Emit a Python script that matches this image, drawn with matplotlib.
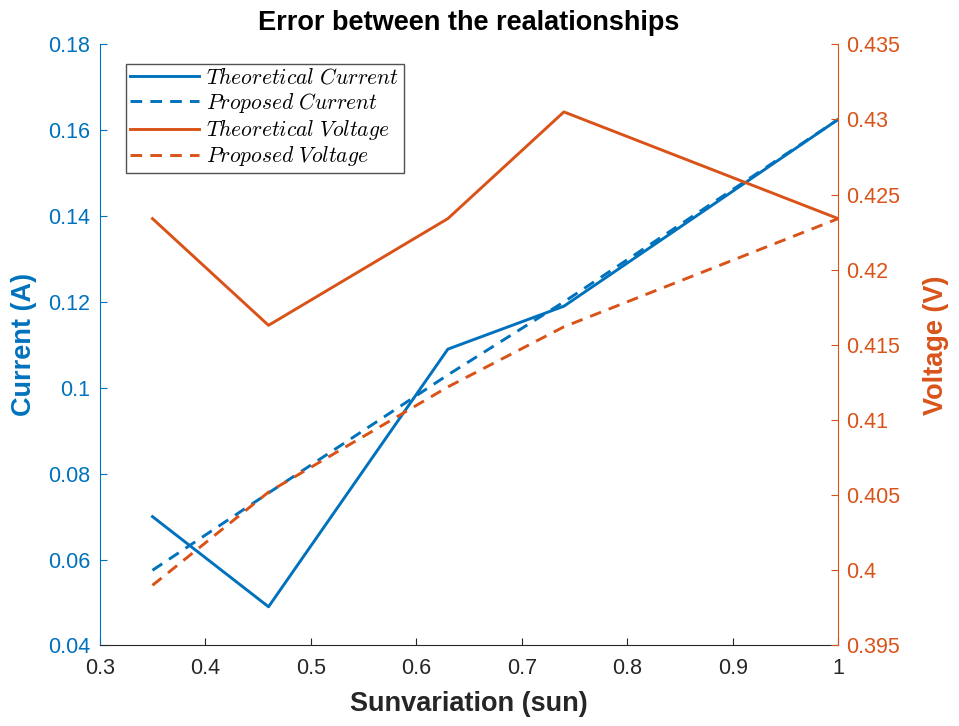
import matplotlib
matplotlib.use("Agg")
import matplotlib.pyplot as plt

# Sun variation levels and measured/fitted values
sun = [0.35, 0.46, 0.63, 0.74, 1.0]
currentTheo = [0.070, 0.049, 0.109, 0.119, 0.1625]
currentProp = [0.0575, 0.0755, 0.1030, 0.1200, 0.1625]
voltageTheo = [0.4234, 0.4163, 0.4234, 0.4305, 0.4234]
voltageProp = [0.3990, 0.4052, 0.4122, 0.4162, 0.4234]

blue = "#0072BD"
orange = "#D95319"
dark = "#262626"

plt.rcParams["font.family"] = ["Liberation Sans", "DejaVu Sans"]
plt.rcParams["mathtext.fontset"] = "cm"

fig = plt.figure(figsize=(9.59, 7.26), dpi=100)
ax = fig.add_axes([0.104, 0.111, 0.770, 0.828])
ax2 = ax.twinx()

dash = (0, (4, 2.8))
l1, = ax.plot(sun, currentTheo, color=blue, lw=2.1, label=r"$Theoretical\ Current$")
l2, = ax.plot(sun, currentProp, color=blue, lw=2.1, ls=dash, label=r"$Proposed\ Current$")
l3, = ax2.plot(sun, voltageTheo, color=orange, lw=2.1, label=r"$Theoretical\ Voltage$")
l4, = ax2.plot(sun, voltageProp, color=orange, lw=2.1, ls=dash, label=r"$Proposed\ Voltage$")

ax.set_xlim(0.3, 1.0)
ax.set_ylim(0.04, 0.18)
ax2.set_ylim(0.395, 0.435)
ax.set_xticks([0.3, 0.4, 0.5, 0.6, 0.7, 0.8, 0.9, 1.0])
ax.set_xticklabels(["0.3", "0.4", "0.5", "0.6", "0.7", "0.8", "0.9", "1"])
ax.set_yticks([0.04, 0.06, 0.08, 0.1, 0.12, 0.14, 0.16, 0.18])
ax.set_yticklabels(["0.04", "0.06", "0.08", "0.1", "0.12", "0.14", "0.16", "0.18"])
ax2.set_yticks([0.395, 0.4, 0.405, 0.41, 0.415, 0.42, 0.425, 0.43, 0.435])
ax2.set_yticklabels(["0.395", "0.4", "0.405", "0.41", "0.415", "0.42", "0.425", "0.43", "0.435"])

for a in (ax, ax2):
    a.spines["top"].set_visible(False)
ax.spines["left"].set_color(blue)
ax.spines["right"].set_visible(False)
ax2.spines["left"].set_visible(False)
ax2.spines["right"].set_color(orange)
ax2.spines["bottom"].set_visible(False)
ax.spines["bottom"].set_color(dark)

ax.tick_params(axis="y", direction="in", colors=blue, labelsize=15.5, length=5, pad=7)
ax.tick_params(axis="x", direction="in", colors=dark, labelsize=15.5, length=5, pad=9)
ax2.tick_params(axis="y", direction="in", colors=orange, labelsize=15.5, length=5, pad=6)

ax.set_xlabel("Sunvariation (sun)", fontsize=19.5, fontweight="bold", color=dark, labelpad=9)
ax.set_ylabel("Current (A)", fontsize=19.5, fontweight="bold", color=blue, labelpad=8)
ax2.set_ylabel("Voltage (V)", fontsize=19.5, fontweight="bold", color=orange, labelpad=16)
ax.set_title("Error between the realationships", fontsize=19.5, fontweight="bold", pad=10)

leg = ax2.legend(handles=[l1, l2, l3, l4], loc="upper left", bbox_to_anchor=(0.035, 0.968),
                 fontsize=15.5, frameon=True, fancybox=False, handlelength=3.2,
                 borderpad=0.2, labelspacing=0.1, handletextpad=0.35, borderaxespad=0)
leg.get_frame().set_edgecolor(dark)
leg.get_frame().set_linewidth(1.0)

fig.savefig("out.png", dpi=100)
